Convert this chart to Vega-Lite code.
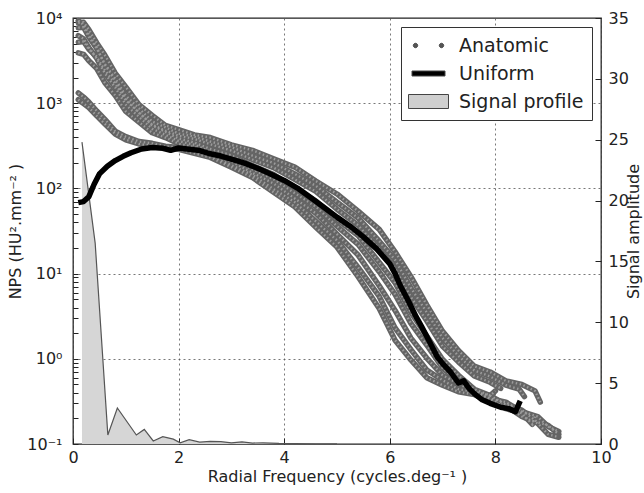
{
  "$schema": "https://vega.github.io/schema/vega-lite/v6.json",
  "width": 528,
  "height": 426,
  "autosize": "none",
  "padding": {"left": 73, "top": 18, "right": 43, "bottom": 49},
  "background": "white",
  "config": {
    "view": {"stroke": "#222", "strokeWidth": 1.3},
    "font": "DejaVu Sans",
    "axis": {"labelFont": "DejaVu Sans", "titleFont": "DejaVu Sans", "labelColor": "#222", "titleColor": "#222", "titleFontWeight": "normal", "tickColor": "#222", "tickWidth": 1, "domain": false, "labelFontSize": 16, "titleFontSize": 16}
  },
  "datasets": {
    "sig": [
      {"x": 0.17, "a": 24.8}, {"x": 0.42, "a": 16.5}, {"x": 0.66, "a": 0.74}, {"x": 0.84, "a": 2.96}, {"x": 1.2, "a": 0.74},
      {"x": 1.35, "a": 1.2}, {"x": 1.52, "a": 0.25}, {"x": 1.7, "a": 0.6}, {"x": 1.9, "a": 0.4}, {"x": 2.03, "a": 0.1},
      {"x": 2.2, "a": 0.35}, {"x": 2.4, "a": 0.15}, {"x": 2.6, "a": 0.22}, {"x": 2.8, "a": 0.2}, {"x": 3.0, "a": 0.1},
      {"x": 3.2, "a": 0.18}, {"x": 3.4, "a": 0.08}, {"x": 3.6, "a": 0.1}, {"x": 3.9, "a": 0.05}, {"x": 4.2, "a": 0.04},
      {"x": 4.6, "a": 0.02}, {"x": 5.0, "a": 0.02}
    ],
    "unif": [
      {"x": 0.1, "y": 68}, {"x": 0.2, "y": 70}, {"x": 0.3, "y": 80}, {"x": 0.4, "y": 112}, {"x": 0.5, "y": 148},
      {"x": 0.65, "y": 182}, {"x": 0.8, "y": 212}, {"x": 0.95, "y": 238}, {"x": 1.1, "y": 262}, {"x": 1.3, "y": 290},
      {"x": 1.5, "y": 302}, {"x": 1.7, "y": 296}, {"x": 1.85, "y": 280}, {"x": 2.0, "y": 298}, {"x": 2.2, "y": 288},
      {"x": 2.4, "y": 278}, {"x": 2.6, "y": 255}, {"x": 2.8, "y": 240}, {"x": 3.0, "y": 220}, {"x": 3.25, "y": 198},
      {"x": 3.5, "y": 172}, {"x": 3.75, "y": 147}, {"x": 4.0, "y": 124}, {"x": 4.25, "y": 101}, {"x": 4.5, "y": 78},
      {"x": 4.75, "y": 60}, {"x": 5.0, "y": 46}, {"x": 5.25, "y": 36}, {"x": 5.5, "y": 27}, {"x": 5.75, "y": 19.5},
      {"x": 6.0, "y": 13}, {"x": 6.1, "y": 10}, {"x": 6.2, "y": 7.2}, {"x": 6.35, "y": 4.8}, {"x": 6.5, "y": 3.1},
      {"x": 6.6, "y": 2.4}, {"x": 6.75, "y": 1.6}, {"x": 6.9, "y": 1.05}, {"x": 7.0, "y": 0.88}, {"x": 7.15, "y": 0.7},
      {"x": 7.3, "y": 0.52}, {"x": 7.4, "y": 0.55}, {"x": 7.5, "y": 0.45}, {"x": 7.6, "y": 0.39}, {"x": 7.75, "y": 0.33},
      {"x": 7.9, "y": 0.3}, {"x": 8.1, "y": 0.27}, {"x": 8.25, "y": 0.26}, {"x": 8.38, "y": 0.24}, {"x": 8.47, "y": 0.32}
    ],
    "anat": [
      {"c": "A1", "x": 0.1, "y": 8800}, {"c": "A1", "x": 0.2, "y": 8900}, {"c": "A1", "x": 0.3, "y": 7300}, {"c": "A1", "x": 0.45, "y": 5100},
      {"c": "A1", "x": 0.6, "y": 3700}, {"c": "A1", "x": 0.8, "y": 2250}, {"c": "A1", "x": 1.0, "y": 1550}, {"c": "A1", "x": 1.25, "y": 960},
      {"c": "A1", "x": 1.5, "y": 720}, {"c": "A1", "x": 1.75, "y": 550}, {"c": "A1", "x": 2.0, "y": 490}, {"c": "A1", "x": 2.3, "y": 425},
      {"c": "A1", "x": 2.6, "y": 395}, {"c": "A1", "x": 3.0, "y": 325}, {"c": "A1", "x": 3.4, "y": 280}, {"c": "A1", "x": 3.8, "y": 222},
      {"c": "A1", "x": 4.2, "y": 178}, {"c": "A1", "x": 4.6, "y": 122}, {"c": "A1", "x": 5.0, "y": 86}, {"c": "A1", "x": 5.4, "y": 54},
      {"c": "A1", "x": 5.8, "y": 33}, {"c": "A1", "x": 6.1, "y": 18}, {"c": "A1", "x": 6.4, "y": 9.2}, {"c": "A1", "x": 6.7, "y": 4.3},
      {"c": "A1", "x": 7.0, "y": 2.1}, {"c": "A1", "x": 7.3, "y": 1.25}, {"c": "A1", "x": 7.6, "y": 0.82}, {"c": "A1", "x": 7.9, "y": 0.7},
      {"c": "A1", "x": 8.2, "y": 0.55}, {"c": "A1", "x": 8.5, "y": 0.5}, {"c": "A1", "x": 8.75, "y": 0.42}, {"c": "A1", "x": 8.85, "y": 0.31},

      {"c": "A2", "x": 0.1, "y": 7700}, {"c": "A2", "x": 0.2, "y": 7800}, {"c": "A2", "x": 0.3, "y": 6000}, {"c": "A2", "x": 0.45, "y": 4400},
      {"c": "A2", "x": 0.6, "y": 2900}, {"c": "A2", "x": 0.8, "y": 1950}, {"c": "A2", "x": 1.0, "y": 1220}, {"c": "A2", "x": 1.25, "y": 870},
      {"c": "A2", "x": 1.5, "y": 610}, {"c": "A2", "x": 1.75, "y": 520}, {"c": "A2", "x": 2.0, "y": 440}, {"c": "A2", "x": 2.3, "y": 405},
      {"c": "A2", "x": 2.6, "y": 355}, {"c": "A2", "x": 3.0, "y": 305}, {"c": "A2", "x": 3.4, "y": 242}, {"c": "A2", "x": 3.8, "y": 198},
      {"c": "A2", "x": 4.2, "y": 148}, {"c": "A2", "x": 4.6, "y": 107}, {"c": "A2", "x": 5.0, "y": 69}, {"c": "A2", "x": 5.4, "y": 45},
      {"c": "A2", "x": 5.8, "y": 24}, {"c": "A2", "x": 6.1, "y": 14.5}, {"c": "A2", "x": 6.4, "y": 6.8}, {"c": "A2", "x": 6.7, "y": 3.5},
      {"c": "A2", "x": 7.0, "y": 1.75}, {"c": "A2", "x": 7.3, "y": 1.08}, {"c": "A2", "x": 7.6, "y": 0.73}, {"c": "A2", "x": 7.9, "y": 0.62},
      {"c": "A2", "x": 8.2, "y": 0.49}, {"c": "A2", "x": 8.45, "y": 0.44}, {"c": "A2", "x": 8.55, "y": 0.36},

      {"c": "A3", "x": 0.1, "y": 5200}, {"c": "A3", "x": 0.2, "y": 5300}, {"c": "A3", "x": 0.3, "y": 4300}, {"c": "A3", "x": 0.45, "y": 3500},
      {"c": "A3", "x": 0.6, "y": 2450}, {"c": "A3", "x": 0.8, "y": 1700}, {"c": "A3", "x": 1.0, "y": 1080}, {"c": "A3", "x": 1.25, "y": 770},
      {"c": "A3", "x": 1.5, "y": 560}, {"c": "A3", "x": 1.75, "y": 475}, {"c": "A3", "x": 2.0, "y": 415}, {"c": "A3", "x": 2.3, "y": 380},
      {"c": "A3", "x": 2.6, "y": 330}, {"c": "A3", "x": 3.0, "y": 278}, {"c": "A3", "x": 3.4, "y": 218}, {"c": "A3", "x": 3.8, "y": 175},
      {"c": "A3", "x": 4.2, "y": 128}, {"c": "A3", "x": 4.6, "y": 92}, {"c": "A3", "x": 5.0, "y": 57}, {"c": "A3", "x": 5.4, "y": 37},
      {"c": "A3", "x": 5.8, "y": 19.5}, {"c": "A3", "x": 6.1, "y": 11.5}, {"c": "A3", "x": 6.4, "y": 5.3}, {"c": "A3", "x": 6.7, "y": 2.8},
      {"c": "A3", "x": 7.0, "y": 1.4}, {"c": "A3", "x": 7.3, "y": 0.92}, {"c": "A3", "x": 7.6, "y": 0.63}, {"c": "A3", "x": 7.9, "y": 0.53},
      {"c": "A3", "x": 8.1, "y": 0.45},

      {"c": "B1", "x": 0.1, "y": 9300}, {"c": "B1", "x": 0.2, "y": 8300}, {"c": "B1", "x": 0.3, "y": 6400}, {"c": "B1", "x": 0.45, "y": 4500},
      {"c": "B1", "x": 0.6, "y": 2850}, {"c": "B1", "x": 0.8, "y": 1850}, {"c": "B1", "x": 1.0, "y": 1120}, {"c": "B1", "x": 1.25, "y": 780},
      {"c": "B1", "x": 1.5, "y": 550}, {"c": "B1", "x": 1.75, "y": 460}, {"c": "B1", "x": 2.0, "y": 385}, {"c": "B1", "x": 2.3, "y": 345},
      {"c": "B1", "x": 2.6, "y": 290}, {"c": "B1", "x": 3.0, "y": 244}, {"c": "B1", "x": 3.4, "y": 185}, {"c": "B1", "x": 3.8, "y": 145},
      {"c": "B1", "x": 4.2, "y": 101}, {"c": "B1", "x": 4.6, "y": 71}, {"c": "B1", "x": 5.0, "y": 43}, {"c": "B1", "x": 5.4, "y": 28},
      {"c": "B1", "x": 5.8, "y": 13.5}, {"c": "B1", "x": 6.1, "y": 7.8}, {"c": "B1", "x": 6.4, "y": 3.5}, {"c": "B1", "x": 6.7, "y": 1.85},
      {"c": "B1", "x": 7.0, "y": 0.98}, {"c": "B1", "x": 7.3, "y": 0.64}, {"c": "B1", "x": 7.6, "y": 0.44}, {"c": "B1", "x": 7.9, "y": 0.37},
      {"c": "B1", "x": 8.2, "y": 0.29}, {"c": "B1", "x": 8.5, "y": 0.25}, {"c": "B1", "x": 8.8, "y": 0.18}, {"c": "B1", "x": 9.0, "y": 0.165},
      {"c": "B1", "x": 9.2, "y": 0.13},

      {"c": "B2", "x": 0.1, "y": 6200}, {"c": "B2", "x": 0.2, "y": 5700}, {"c": "B2", "x": 0.3, "y": 4500}, {"c": "B2", "x": 0.45, "y": 3350},
      {"c": "B2", "x": 0.6, "y": 2250}, {"c": "B2", "x": 0.8, "y": 1530}, {"c": "B2", "x": 1.0, "y": 960}, {"c": "B2", "x": 1.25, "y": 690},
      {"c": "B2", "x": 1.5, "y": 500}, {"c": "B2", "x": 1.75, "y": 425}, {"c": "B2", "x": 2.0, "y": 360}, {"c": "B2", "x": 2.3, "y": 325},
      {"c": "B2", "x": 2.6, "y": 270}, {"c": "B2", "x": 3.0, "y": 224}, {"c": "B2", "x": 3.4, "y": 167}, {"c": "B2", "x": 3.8, "y": 128},
      {"c": "B2", "x": 4.2, "y": 88}, {"c": "B2", "x": 4.6, "y": 61}, {"c": "B2", "x": 5.0, "y": 36}, {"c": "B2", "x": 5.4, "y": 22},
      {"c": "B2", "x": 5.8, "y": 10.5}, {"c": "B2", "x": 6.1, "y": 5.7}, {"c": "B2", "x": 6.4, "y": 2.6}, {"c": "B2", "x": 6.7, "y": 1.45},
      {"c": "B2", "x": 7.0, "y": 0.78}, {"c": "B2", "x": 7.3, "y": 0.54}, {"c": "B2", "x": 7.6, "y": 0.39}, {"c": "B2", "x": 7.9, "y": 0.34},
      {"c": "B2", "x": 8.2, "y": 0.26}, {"c": "B2", "x": 8.5, "y": 0.23}, {"c": "B2", "x": 8.7, "y": 0.17}, {"c": "B2", "x": 8.75, "y": 0.21},

      {"c": "B3", "x": 0.1, "y": 3900}, {"c": "B3", "x": 0.2, "y": 3750}, {"c": "B3", "x": 0.3, "y": 3150}, {"c": "B3", "x": 0.45, "y": 2550},
      {"c": "B3", "x": 0.6, "y": 1750}, {"c": "B3", "x": 0.8, "y": 1230}, {"c": "B3", "x": 1.0, "y": 800}, {"c": "B3", "x": 1.25, "y": 600},
      {"c": "B3", "x": 1.5, "y": 450}, {"c": "B3", "x": 1.75, "y": 395}, {"c": "B3", "x": 2.0, "y": 335}, {"c": "B3", "x": 2.3, "y": 305},
      {"c": "B3", "x": 2.6, "y": 252}, {"c": "B3", "x": 3.0, "y": 208}, {"c": "B3", "x": 3.4, "y": 152}, {"c": "B3", "x": 3.8, "y": 114},
      {"c": "B3", "x": 4.2, "y": 76}, {"c": "B3", "x": 4.6, "y": 51}, {"c": "B3", "x": 5.0, "y": 29}, {"c": "B3", "x": 5.4, "y": 16.5},
      {"c": "B3", "x": 5.8, "y": 7.2}, {"c": "B3", "x": 6.1, "y": 3.7}, {"c": "B3", "x": 6.4, "y": 1.75}, {"c": "B3", "x": 6.7, "y": 1.02},
      {"c": "B3", "x": 7.0, "y": 0.64}, {"c": "B3", "x": 7.3, "y": 0.51}, {"c": "B3", "x": 7.6, "y": 0.41}, {"c": "B3", "x": 7.9, "y": 0.37},
      {"c": "B3", "x": 8.0, "y": 0.42},

      {"c": "B4", "x": 0.1, "y": 1320}, {"c": "B4", "x": 0.2, "y": 1180}, {"c": "B4", "x": 0.3, "y": 1030}, {"c": "B4", "x": 0.45, "y": 810},
      {"c": "B4", "x": 0.6, "y": 650}, {"c": "B4", "x": 0.8, "y": 470}, {"c": "B4", "x": 1.0, "y": 405}, {"c": "B4", "x": 1.25, "y": 355},
      {"c": "B4", "x": 1.5, "y": 338}, {"c": "B4", "x": 1.75, "y": 312}, {"c": "B4", "x": 2.0, "y": 302}, {"c": "B4", "x": 2.3, "y": 272},
      {"c": "B4", "x": 2.6, "y": 243}, {"c": "B4", "x": 3.0, "y": 187}, {"c": "B4", "x": 3.4, "y": 144}, {"c": "B4", "x": 3.8, "y": 98},
      {"c": "B4", "x": 4.2, "y": 69}, {"c": "B4", "x": 4.6, "y": 41}, {"c": "B4", "x": 5.0, "y": 24.5}, {"c": "B4", "x": 5.4, "y": 11.8},
      {"c": "B4", "x": 5.8, "y": 5.4}, {"c": "B4", "x": 6.1, "y": 2.3}, {"c": "B4", "x": 6.4, "y": 1.28}, {"c": "B4", "x": 6.7, "y": 0.74},
      {"c": "B4", "x": 7.0, "y": 0.56}, {"c": "B4", "x": 7.3, "y": 0.44}, {"c": "B4", "x": 7.6, "y": 0.41}, {"c": "B4", "x": 7.9, "y": 0.34},
      {"c": "B4", "x": 8.2, "y": 0.31}, {"c": "B4", "x": 8.5, "y": 0.24}, {"c": "B4", "x": 8.8, "y": 0.21}, {"c": "B4", "x": 9.0, "y": 0.16},
      {"c": "B4", "x": 9.2, "y": 0.14},

      {"c": "B5", "x": 0.1, "y": 1100}, {"c": "B5", "x": 0.2, "y": 990}, {"c": "B5", "x": 0.3, "y": 890}, {"c": "B5", "x": 0.45, "y": 710},
      {"c": "B5", "x": 0.6, "y": 575}, {"c": "B5", "x": 0.8, "y": 435}, {"c": "B5", "x": 1.0, "y": 372}, {"c": "B5", "x": 1.25, "y": 332},
      {"c": "B5", "x": 1.5, "y": 318}, {"c": "B5", "x": 1.75, "y": 297}, {"c": "B5", "x": 2.0, "y": 288}, {"c": "B5", "x": 2.3, "y": 258},
      {"c": "B5", "x": 2.6, "y": 231}, {"c": "B5", "x": 3.0, "y": 177}, {"c": "B5", "x": 3.4, "y": 134}, {"c": "B5", "x": 3.8, "y": 90},
      {"c": "B5", "x": 4.2, "y": 61}, {"c": "B5", "x": 4.6, "y": 35}, {"c": "B5", "x": 5.0, "y": 20.5}, {"c": "B5", "x": 5.4, "y": 9.2},
      {"c": "B5", "x": 5.8, "y": 3.9}, {"c": "B5", "x": 6.1, "y": 1.65}, {"c": "B5", "x": 6.4, "y": 0.97}, {"c": "B5", "x": 6.7, "y": 0.6},
      {"c": "B5", "x": 7.0, "y": 0.49}, {"c": "B5", "x": 7.3, "y": 0.41}, {"c": "B5", "x": 7.6, "y": 0.38}, {"c": "B5", "x": 7.9, "y": 0.31},
      {"c": "B5", "x": 8.2, "y": 0.28}, {"c": "B5", "x": 8.5, "y": 0.21}, {"c": "B5", "x": 8.8, "y": 0.175}, {"c": "B5", "x": 9.0, "y": 0.13},
      {"c": "B5", "x": 9.2, "y": 0.12}
    ],
    "leg": [{"s": "Anatomic"}, {"s": "Uniform"}, {"s": "Signal profile"}]
  },
  "layer": [
    {
      "data": {"name": "sig"},
      "mark": {"type": "area", "color": "#d6d6d6", "opacity": 1, "line": {"color": "#555", "strokeWidth": 1.2}},
      "encoding": {
        "x": {"field": "x", "type": "quantitative", "scale": {"domain": [0, 10], "nice": false},
          "axis": {"values": [0, 2, 4, 6, 8, 10], "title": "Radial Frequency (cycles.deg⁻¹ )", "grid": true, "gridDash": [2, 3], "gridColor": "#555", "gridWidth": 0.8, "offset": -6, "tickSize": 6, "labelPadding": 5, "titlePadding": 3, "labelFlush": false}},
        "y": {"field": "a", "type": "quantitative", "scale": {"domain": [0, 35], "nice": false},
          "axis": {"orient": "right", "values": [0, 5, 10, 15, 20, 25, 30, 35], "title": "Signal amplitude", "titleAngle": 270, "grid": false, "offset": -6, "tickSize": 6, "labelPadding": 7, "titlePadding": 13}}
      }
    },
    {
      "layer": [
        {
          "data": {"name": "anat"},
          "mark": {"type": "line", "color": "#646464", "strokeWidth": 5.5, "strokeCap": "round", "strokeJoin": "round"},
          "encoding": {
            "x": {"field": "x", "type": "quantitative"},
            "y": {"field": "y", "type": "quantitative", "scale": {"type": "log", "domain": [0.1, 10000], "nice": false},
              "axis": {"orient": "left", "title": "NPS (HU².mm⁻² )",
                "values": [0.1, 0.2, 0.3, 0.4, 0.5, 0.6, 0.7, 0.8, 0.9, 1, 2, 3, 4, 5, 6, 7, 8, 9, 10, 20, 30, 40, 50, 60, 70, 80, 90, 100, 200, 300, 400, 500, 600, 700, 800, 900, 1000, 2000, 3000, 4000, 5000, 6000, 7000, 8000, 9000, 10000],
                "labelExpr": "datum.value == 10000 ? '10⁴' : datum.value == 1000 ? '10³' : datum.value == 100 ? '10²' : datum.value == 10 ? '10¹' : datum.value == 1 ? '10⁰' : datum.value == 0.1 ? '10⁻¹' : ''",
                "labelOverlap": false,
                "grid": true, "gridDash": [2, 3], "gridColor": "#555", "gridWidth": 0.8,
                "gridOpacity": {"condition": {"test": "indexof([0.1, 1, 10, 100, 1000, 10000], datum.value) >= 0", "value": 1}, "value": 0},
                "offset": -5, "tickSize": 5,
                "labelPadding": 11, "titlePadding": 3}},
            "detail": {"field": "c", "type": "nominal"}
          }
        },
        {
          "data": {"name": "anat"},
          "mark": {"type": "line", "color": "#9c9c9c", "strokeWidth": 2.4, "strokeDash": [1.5, 2.5]},
          "encoding": {
            "x": {"field": "x", "type": "quantitative"},
            "y": {"field": "y", "type": "quantitative", "scale": {"type": "log", "domain": [0.1, 10000], "nice": false}},
            "detail": {"field": "c", "type": "nominal"}
          }
        },
        {
          "data": {"name": "unif"},
          "mark": {"type": "line", "color": "#000", "strokeWidth": 5.5, "strokeJoin": "round"},
          "encoding": {
            "x": {"field": "x", "type": "quantitative"},
            "y": {"field": "y", "type": "quantitative", "scale": {"type": "log", "domain": [0.1, 10000], "nice": false}}
          }
        },
        {
          "data": {"name": "leg"},
          "transform": [{"filter": "datum.s == 'none'"}],
          "mark": {"type": "point", "filled": true, "opacity": 1},
          "encoding": {
            "color": {"field": "s", "type": "nominal", "scale": {"domain": ["Anatomic", "Uniform", "Signal profile"], "range": ["#555555", "#000000", "#cfcfcf"]},
              "legend": {"title": null, "orient": "top-right", "offset": 9, "strokeColor": "#333", "fillColor": "white", "padding": 8, "labelFontSize": 19, "labelFont": "DejaVu Sans", "labelColor": "#222", "symbolSize": 400, "symbolOpacity": 1, "rowPadding": 7, "labelOffset": 20, "symbolOffset": 9, "symbolStrokeColor": "#444", "symbolStrokeWidth": 1,
                "encode": {"symbols": {"update": {"stroke": {"value": "#444"}, "strokeWidth": {"value": 1}}}}}},
            "shape": {"field": "s", "type": "nominal", "scale": {"domain": ["Anatomic", "Uniform", "Signal profile"], "range": ["M-1.52,0a0.22,0.22 0 1,0 0.44,0a0.22,0.22 0 1,0 -0.44,0Z M1.08,0a0.22,0.22 0 1,0 0.44,0a0.22,0.22 0 1,0 -0.44,0Z", "M-1.65,-0.25H1.65V0.25H-1.65Z", "M-2,-0.7H2V0.7H-2Z"]},
              "legend": {"title": null, "orient": "top-right", "offset": 9, "strokeColor": "#333", "fillColor": "white", "padding": 8, "labelFontSize": 19, "labelFont": "DejaVu Sans", "labelColor": "#222", "symbolSize": 400, "symbolOpacity": 1, "rowPadding": 7, "labelOffset": 20, "symbolOffset": 9, "symbolStrokeColor": "#444", "symbolStrokeWidth": 1,
                "encode": {"symbols": {"update": {"stroke": {"value": "#444"}, "strokeWidth": {"value": 1}}}}}}
          }
        }
      ]
    }
  ],
  "resolve": {"scale": {"y": "independent"}}
}
